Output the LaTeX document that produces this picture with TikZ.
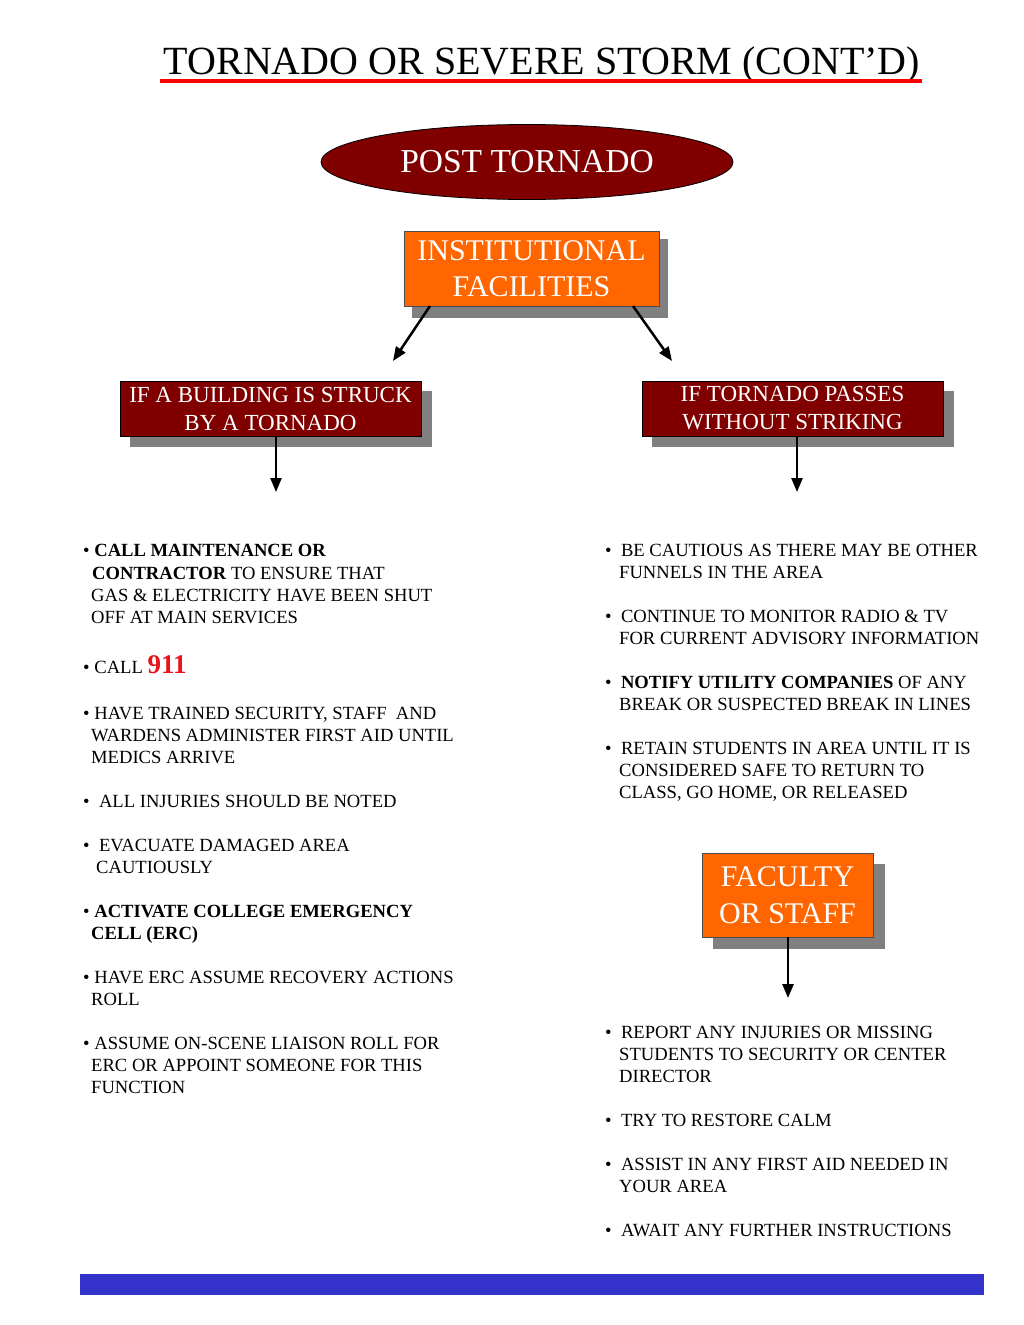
\documentclass[tikz,border=0pt]{standalone}
\usepackage{fontspec}
\setmainfont{Liberation Serif}
\usetikzlibrary{arrows.meta,shapes.geometric}
\definecolor{dred}{HTML}{800000}
\definecolor{orng}{HTML}{FF6600}
\definecolor{shad}{HTML}{808080}
\definecolor{barblue}{HTML}{3333CC}
\definecolor{nred}{HTML}{E8141C}
\begin{document}
\begin{tikzpicture}[x=1pt,y=-1pt,
  title/.style={inner sep=0pt,anchor=base,font=\fontsize{40}{46}\selectfont},
  obox/.style={draw=black!70,line width=0.8pt,fill=orng,text=white,align=center,inner sep=0pt,font=\fontsize{30}{36.5}\selectfont},
  rbox/.style={draw=black,line width=0.8pt,fill=dred,text=white,align=center,inner sep=0pt,font=\fontsize{23}{28}\selectfont},
  oval/.style={ellipse,draw=black,line width=0.8pt,fill=dred,text=white,inner sep=0pt,font=\fontsize{33.5}{40}\selectfont},
  txt/.style={anchor=base west,inner sep=0pt,font=\fontsize{18.6}{22}\selectfont},
  arr/.style={line width=2.5pt,-{Triangle[length=14pt,width=11pt]}}
]
\useasboundingbox (0,0) rectangle (1024,1325);
\fill[white] (0,0) rectangle (1024,1325);

% title
\node[title] (ttl) at (542,74) {TORNADO OR SEVERE STORM (CONT’D)};
\draw[red,line width=4pt] (160,81) -- (922,81);

% post tornado
\node[oval,minimum width=412pt,minimum height=75pt] (post) at (527,162) {POST TORNADO};

% institutional facilities
\fill[shad] (412,239) rectangle (668,318);
\node[obox,minimum width=255pt,minimum height=75pt] (inst) at (531.5,268.5) {INSTITUTIONAL\\FACILITIES};

% red boxes
\fill[shad] (130,391) rectangle (432,447);
\node[rbox,minimum width=301pt,minimum height=55pt] (struck) at (270.5,408.5) {IF A BUILDING IS STRUCK\\BY A TORNADO};
\fill[shad] (652,391) rectangle (954,447);
\node[rbox,minimum width=301pt,minimum height=55pt] (pass) at (792.5,408.5) {IF TORNADO PASSES\\WITHOUT STRIKING};

% faculty
\fill[shad] (713,864) rectangle (885,949);
\node[obox,minimum width=171pt,minimum height=84pt] (fac) at (787.5,895) {FACULTY\\OR STAFF};

% arrows
\coordinate (ia) at (430,306);
\coordinate (ib) at (633,306);
\coordinate (ea) at (393,361);
\coordinate (eb) at (672,361);
\draw[arr] (ia) -- (ea);
\draw[arr] (ib) -- (eb);
\coordinate (sa) at (276,436);
\coordinate (sb) at (276,492);
\draw[arr] (sa) -- (sb);
\coordinate (pa) at (797,436);
\coordinate (pb) at (797,492);
\draw[arr] (pa) -- (pb);
\coordinate (fa) at (788,937);
\coordinate (fb) at (788,998);
\draw[arr] (fa) -- (fb);

% left column
\node[txt] (l1) at (83,556) {• \textbf{CALL MAINTENANCE OR}};
\node[txt] (l2) at (92,579) {\textbf{CONTRACTOR} TO ENSURE THAT};
\node[txt] (l3) at (91,601) {GAS \& ELECTRICITY HAVE BEEN SHUT};
\node[txt] (l4) at (91,623) {OFF AT MAIN SERVICES};
\node[txt] (l5) at (83,673) {• CALL\ \textcolor{nred}{\fontsize{27}{28}\selectfont\textbf{911}}};
\node[txt] (l6) at (83,719) {• HAVE TRAINED SECURITY, STAFF\ \ AND};
\node[txt] (l7) at (91,741) {WARDENS ADMINISTER FIRST AID UNTIL};
\node[txt] (l8) at (91,763) {MEDICS ARRIVE};
\node[txt] (l9) at (83,807) {•\ \ ALL INJURIES SHOULD BE NOTED};
\node[txt] (l10) at (83,851) {•\ \ EVACUATE DAMAGED AREA};
\node[txt] (l11) at (96,873) {CAUTIOUSLY};
\node[txt] (l12) at (83,917) {• \textbf{ACTIVATE COLLEGE EMERGENCY}};
\node[txt] (l13) at (91,939) {\textbf{CELL (ERC)}};
\node[txt] (l14) at (83,983) {• HAVE ERC ASSUME RECOVERY ACTIONS};
\node[txt] (l15) at (91,1005) {ROLL};
\node[txt] (l16) at (83,1049) {• ASSUME ON-SCENE LIAISON ROLL FOR};
\node[txt] (l17) at (91,1071) {ERC OR APPOINT SOMEONE FOR THIS};
\node[txt] (l18) at (91,1093) {FUNCTION};

% right column
\node[txt] (r1) at (605,556) {•\ \ BE CAUTIOUS AS THERE MAY BE OTHER};
\node[txt] (r2) at (619,578) {FUNNELS IN THE AREA};
\node[txt] (r3) at (605,622) {•\ \ CONTINUE TO MONITOR RADIO \& TV};
\node[txt] (r4) at (619,644) {FOR CURRENT ADVISORY INFORMATION};
\node[txt] (r5) at (605,688) {•\ \ \textbf{NOTIFY UTILITY COMPANIES} OF ANY};
\node[txt] (r6) at (619,710) {BREAK OR SUSPECTED BREAK IN LINES};
\node[txt] (r7) at (605,754) {•\ \ RETAIN STUDENTS IN AREA UNTIL IT IS};
\node[txt] (r8) at (619,776) {CONSIDERED SAFE TO RETURN TO};
\node[txt] (r9) at (619,798) {CLASS, GO HOME, OR RELEASED};
\node[txt] (r10) at (605,1038) {•\ \ REPORT ANY INJURIES OR MISSING};
\node[txt] (r11) at (619,1060) {STUDENTS TO SECURITY OR CENTER};
\node[txt] (r12) at (619,1082) {DIRECTOR};
\node[txt] (r13) at (605,1126) {•\ \ TRY TO RESTORE CALM};
\node[txt] (r14) at (605,1170) {•\ \ ASSIST IN ANY FIRST AID NEEDED IN};
\node[txt] (r15) at (619,1192) {YOUR AREA};
\node[txt] (r16) at (605,1236) {•\ \ AWAIT ANY FURTHER INSTRUCTIONS};

% bottom bar
\fill[barblue] (80,1274) rectangle (984,1295);
\end{tikzpicture}
\end{document}
